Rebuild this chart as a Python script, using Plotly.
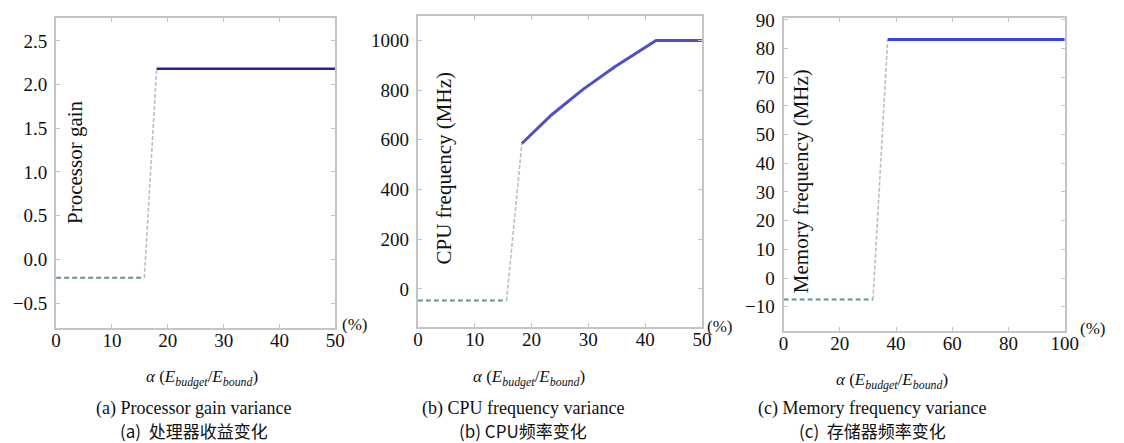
import plotly.graph_objects as go

W, H = 1124, 443

# ---------------- data ----------------
# (a) Processor gain
gain_low_x = [0, 15.8]
gain_low_y = [-0.21, -0.21]
gain_rise_x = [15.8, 18.0]
gain_rise_y = [-0.21, 2.18]
gain_high_x = [18.0, 50]
gain_high_y = [2.18, 2.18]

# (b) CPU frequency (MHz)
cpu_low_x = [0, 15.6]
cpu_low_y = [-47, -47]
cpu_rise_x = [15.6, 18.3]
cpu_rise_y = [-47, 585]
cpu_high_x = [18.3, 23.5, 29.0, 34.6, 41.9, 50]
cpu_high_y = [585, 700, 802, 893, 1000, 1000]

# (c) Memory frequency (MHz)
mem_low_x = [0, 31.8]
mem_low_y = [-7.5, -7.5]
mem_rise_x = [31.8, 37.0]
mem_rise_y = [-7.5, 83.2]
mem_high_x = [37.0, 100]
mem_high_y = [83.2, 83.2]

gain_ticks = [-0.5, 0.0, 0.5, 1.0, 1.5, 2.0, 2.5]
gain_tick_text = ["\u22120.5", "0.0", "0.5", "1.0", "1.5", "2.0", "2.5"]
cpu_ticks = [0, 200, 400, 600, 800, 1000]
mem_ticks = [-10, 0, 10, 20, 30, 40, 50, 60, 70, 80, 90]
mem_tick_text = ["\u221210"] + [str(v) for v in mem_ticks[1:]]
x50_ticks = [0, 10, 20, 30, 40, 50]
x100_ticks = [0, 20, 40, 60, 80, 100]

ylabels = ["Processor gain", "CPU frequency (MHz)", "Memory frequency (MHz)"]
xtitle = "<i>\u03b1</i> (<i>E<sub>budget</sub></i>/<i>E<sub>bound</sub></i>)"
captions_en = ["(a) Processor gain variance", "(b) CPU frequency variance",
               "(c) Memory frequency variance"]
captions_zh = ["(a)  处理器收益变化", "(b) CPU频率变化", "(c)  存储器频率变化"]

# ---------------- layout helpers ----------------
def fx(px):
    return px / W

def fy(py):
    return 1 - py / H

SERIF = "Liberation Serif"
CJK = "Noto Sans CJK SC"
FRAME = "#c4c4c4"

panels = [
    dict(x0=52, x1=336, y0=10, y1=326, xr=[0, 50], yr=[-0.787, 2.764],
         xt=x50_ticks, yt=gain_ticks, ytt=gain_tick_text,
         low=(gain_low_x, gain_low_y), rise=(gain_rise_x, gain_rise_y),
         high=(gain_high_x, gain_high_y), hc="#26268c", hw=2.5,
         ylab=(71, 157), xtit=(200, 377), pct=(356, 322),
         cap=192),
    dict(x0=420, x1=709, y0=8, y1=325, xr=[0, 50], yr=[-154, 1099],
         xt=x50_ticks, yt=cpu_ticks, ytt=[str(v) for v in cpu_ticks],
         low=(cpu_low_x, cpu_low_y), rise=(cpu_rise_x, cpu_rise_y),
         high=(cpu_high_x, cpu_high_y), hc="#5050c4", hw=3,
         ylab=(447, 163), xtit=(533, 377), pct=(727, 324),
         cap=527),
    dict(x0=792, x1=1078, y0=10, y1=329, xr=[0, 100], yr=[-18.5, 90.75],
         xt=x100_ticks, yt=mem_ticks, ytt=mem_tick_text,
         low=(mem_low_x, mem_low_y), rise=(mem_rise_x, mem_rise_y),
         high=(mem_high_x, mem_high_y), hc="#4040e8", hw=3,
         ylab=(810, 176), xtit=(902, 380), pct=(1106, 326),
         cap=882),
]

fig = go.Figure()
annotations = []
layout = {}
for i, p in enumerate(panels):
    n = "" if i == 0 else str(i + 1)
    xa, ya = "x" + n, "y" + n
    fig.add_trace(go.Scatter(x=p["low"][0], y=p["low"][1], mode="lines",
                             line=dict(color="#5f9494", width=2, dash="5px,3px"),
                             xaxis=xa, yaxis=ya, showlegend=False))
    fig.add_trace(go.Scatter(x=p["rise"][0], y=p["rise"][1], mode="lines",
                             line=dict(color="#bdbdbd", width=1.6, dash="4px,2px"),
                             xaxis=xa, yaxis=ya, showlegend=False))
    fig.add_trace(go.Scatter(x=p["high"][0], y=p["high"][1], mode="lines",
                             line=dict(color=p["hc"], width=p["hw"]),
                             xaxis=xa, yaxis=ya, showlegend=False))
    common = dict(showline=True, linecolor=FRAME, linewidth=2, mirror="ticks",
                  ticks="inside", ticklen=4, tickcolor=FRAME, showgrid=False,
                  zeroline=False, tickfont=dict(family=SERIF, size=19, color="#111"))
    layout["xaxis" + n] = dict(domain=[fx(p["x0"]), fx(p["x1"])], range=p["xr"],
                               tickvals=p["xt"], anchor=ya, ticklabelstandoff=-6,
                               **common)
    layout["yaxis" + n] = dict(domain=[fy(p["y1"]), fy(p["y0"])], range=p["yr"],
                               tickvals=p["yt"], ticktext=p["ytt"], anchor=xa,
                               ticklabelstandoff=3, **common)
    annotations.append(dict(x=fx(p["ylab"][0]), y=fy(p["ylab"][1]), xref="paper",
                            yref="paper", text=ylabels[i], textangle=-90,
                            showarrow=False, xanchor="center", yanchor="middle",
                            font=dict(family=SERIF, size=21, color="#111")))
    annotations.append(dict(x=fx(p["xtit"][0]), y=fy(p["xtit"][1]), xref="paper",
                            yref="paper", text=xtitle, showarrow=False,
                            xanchor="center", yanchor="middle",
                            font=dict(family=SERIF, size=17, color="#111")))
    annotations.append(dict(x=fx(p["pct"][0]), y=fy(p["pct"][1]), xref="paper",
                            yref="paper", text="(%)", showarrow=False,
                            xanchor="center", yanchor="middle",
                            font=dict(family=SERIF, size=17, color="#111")))
    annotations.append(dict(x=fx(p["cap"]), y=fy(408), xref="paper",
                            yref="paper", text=captions_en[i], showarrow=False,
                            xanchor="center", yanchor="middle",
                            font=dict(family=SERIF, size=18, color="#111")))
    annotations.append(dict(x=fx(p["cap"]), y=fy(430), xref="paper",
                            yref="paper", text=captions_zh[i], showarrow=False,
                            xanchor="center", yanchor="middle",
                            font=dict(family=CJK, size=17, color="#111")))

fig.update_layout(width=W, height=H, margin=dict(l=0, r=0, t=0, b=0),
                  paper_bgcolor="white", plot_bgcolor="white",
                  font=dict(family=SERIF),
                  annotations=annotations, **layout)
fig.write_html("out.html")
